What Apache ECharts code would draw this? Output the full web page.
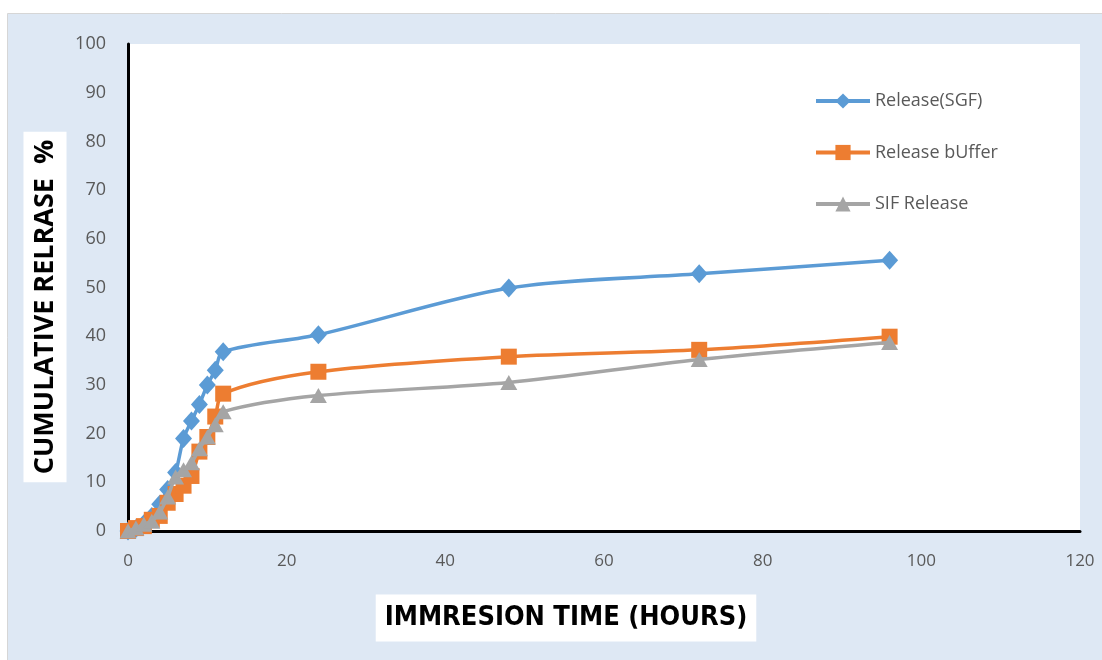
<!DOCTYPE html>
<html>
<head>
<meta charset="utf-8">
<script src="https://cdn.jsdelivr.net/npm/echarts@6/dist/echarts.min.js"></script>
<style>
  html, body { margin: 0; padding: 0; background: #ffffff; }
  #chart { width: 1102px; height: 660px; }
</style>
</head>
<body>
<div id="chart"></div>
<script>
// Sampling times (hours)
const hours = [0, 1, 2, 3, 4, 5, 6, 7, 8, 9, 10, 11, 12, 24, 48, 72, 96];

// Cumulative release (%) for each medium
const releaseSGF    = [0, 0.5, 1.5, 3.0, 5.5, 8.5, 12.0, 19.0, 22.6, 26.0, 30.0, 33.0, 36.8, 40.3, 49.9, 52.8, 55.6];
const releaseBuffer = [0, 0.6, 1.0, 2.3, 3.1, 5.8, 7.6, 9.3, 11.3, 16.3, 19.3, 23.5, 28.2, 32.7, 35.8, 37.2, 39.9];
const releaseSIF    = [0, 0.6, 1.4, 2.0, 3.9, 7.0, 11.1, 12.6, 14.0, 16.9, 19.3, 21.8, 24.5, 27.8, 30.5, 35.2, 38.7];

const seriesNames = ['Release(SGF)', 'Release bUffer', 'SIF Release'];
const seriesColors = ['#5b9bd5', '#ed7d31', '#a5a5a5'];

const xTicks = [0, 20, 40, 60, 80, 100, 120];
const yTicks = [0, 10, 20, 30, 40, 50, 60, 70, 80, 90, 100];

const xTitle = 'IMMRESION TIME (HOURS)';
const yTitle = 'CUMULATIVE RELRASE  %';

function pairs(ys) {
  return hours.map((h, i) => [h, ys[i]]);
}

const chart = echarts.init(document.getElementById('chart'), null, { renderer: 'canvas' });

const labelFont = '"Open Sans", "Liberation Sans", sans-serif';

chart.setOption({
  animation: false,
  backgroundColor: '#ffffff',
  graphic: [
    {
      // chart-area panel
      type: 'rect',
      z: -10,
      shape: { x: 7.5, y: 13.5, width: 1100, height: 660 },
      style: { fill: '#dee8f4', stroke: '#d6d6d6', lineWidth: 1 }
    },
    {
      // y-axis title on a white box
      type: 'text',
      x: 45, y: 307,
      rotation: Math.PI / 2,
      style: {
        text: yTitle,
        fill: '#000000',
        font: 'bold 27px "Open Sans", "Liberation Sans", sans-serif',
        align: 'center', verticalAlign: 'middle',
        backgroundColor: '#ffffff',
        padding: [9, 8, 7, 8]
      }
    },
    {
      // x-axis title on a white box
      type: 'text',
      x: 566, y: 618,
      style: {
        text: xTitle,
        fill: '#000000',
        font: 'bold 27px "Liberation Sans Narrow", "DejaVu Sans Condensed", "Open Sans", sans-serif',
        align: 'center', verticalAlign: 'middle',
        backgroundColor: '#ffffff',
        padding: [11, 9, 9, 9]
      }
    }
  ],
  grid: {
    left: 128, top: 44, right: 22, bottom: 129,
    outerBoundsMode: 'none',
    containLabel: false,
    show: true, backgroundColor: '#ffffff', borderWidth: 0
  },
  legend: {
    orient: 'vertical',
    left: 814, top: 92,
    padding: 0,
    itemWidth: 54, itemHeight: 19, itemGap: 33.5,
    lineStyle: { width: 4 },
    textStyle: { color: '#595959', fontSize: 18, fontFamily: labelFont },
    data: seriesNames
  },
  xAxis: {
    type: 'value',
    min: xTicks[0], max: xTicks[xTicks.length - 1], interval: 20,
    axisLine: { show: true, onZero: false, lineStyle: { color: '#000000', width: 3 } },
    axisTick: { show: false },
    splitLine: { show: false },
    axisLabel: { color: '#595959', fontSize: 17, fontFamily: labelFont, margin: 22 }
  },
  yAxis: {
    type: 'value',
    min: yTicks[0], max: yTicks[yTicks.length - 1], interval: 10,
    axisLine: { show: true, onZero: false, lineStyle: { color: '#000000', width: 3 } },
    axisTick: { show: false },
    splitLine: { show: false },
    axisLabel: { color: '#595959', fontSize: 18, fontFamily: labelFont, margin: 22 }
  },
  series: [
    {
      name: seriesNames[0], type: 'line', smooth: 0.3,
      data: pairs(releaseSGF),
      symbol: 'diamond', symbolSize: [17, 19],
      color: seriesColors[0],
      lineStyle: { width: 3.5, color: seriesColors[0] },
      itemStyle: { color: seriesColors[0] },
      z: 2
    },
    {
      name: seriesNames[1], type: 'line', smooth: 0.3,
      data: pairs(releaseBuffer),
      symbol: 'rect', symbolSize: 16,
      color: seriesColors[1],
      lineStyle: { width: 3.5, color: seriesColors[1] },
      itemStyle: { color: seriesColors[1] },
      z: 3
    },
    {
      name: seriesNames[2], type: 'line', smooth: 0.3,
      data: pairs(releaseSIF),
      symbol: 'triangle', symbolSize: [17, 15],
      color: seriesColors[2],
      lineStyle: { width: 3.5, color: seriesColors[2] },
      itemStyle: { color: seriesColors[2] },
      z: 4
    }
  ]
});
</script>
</body>
</html>
